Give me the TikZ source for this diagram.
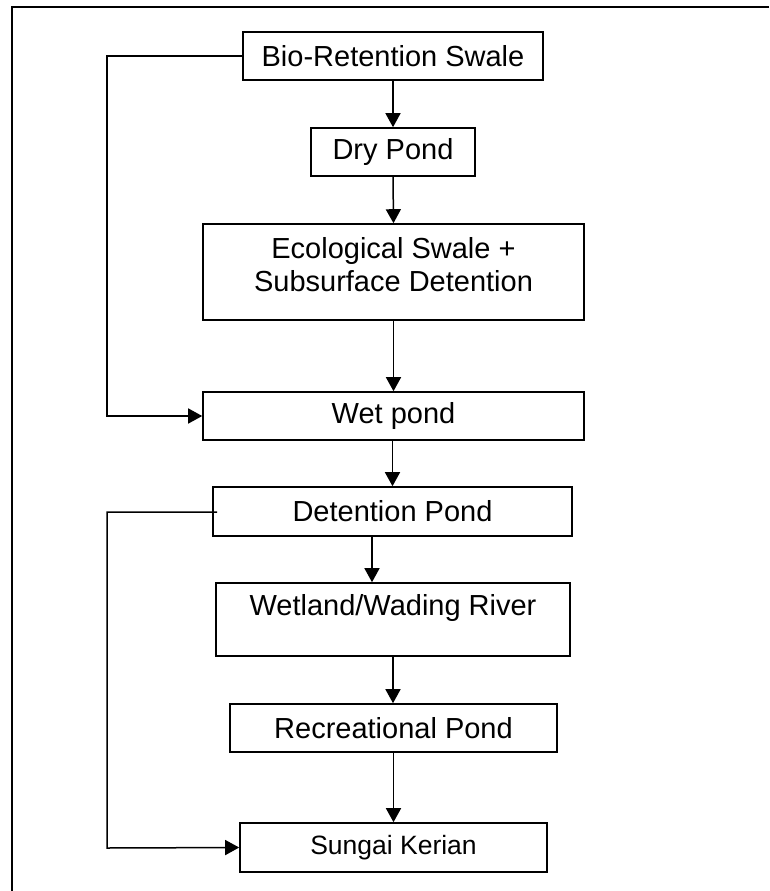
\documentclass[tikz,border=0pt]{standalone}
\usepackage{fontspec}
\setmainfont{Liberation Sans}
\usetikzlibrary{arrows.meta}
\tikzset{
  box/.style={draw, line width=1.6pt, rectangle, inner sep=0pt, font=\fontsize{29}{33}\selectfont},
  txt/.style={inner sep=0pt, align=center, font=\fontsize{29}{33}\selectfont},
  conn/.style={line width=1.5pt},
  arr/.style={conn, -{Triangle[length=14pt,width=15pt]}},
  frame/.style={line width=1.8pt}
}
\begin{document}
\begin{tikzpicture}[x=1pt,y=-1pt]
\useasboundingbox (0,0) rectangle (769,891);
% outer frame (top and left visible)
\coordinate (ftl) at (12,7);
\coordinate (ftr) at (769,7);
\coordinate (fbl) at (12,891);
\draw[frame] (ftr) -- (ftl) -- (fbl);

\node[box, minimum width=300pt, minimum height=48pt] (bio) at (393,56) {Bio-Retention Swale};
\node[box, minimum width=164pt, minimum height=48pt] (dry) at (393,152) {Dry Pond};
\node[box, minimum width=381pt, minimum height=96pt] (eco) at (393.5,272) {};
\node[txt] (ecotxt) at ([yshift=7.5pt]eco.center) {Ecological Swale +\\Subsurface Detention};
\node[box, minimum width=381pt, minimum height=48pt] (wet) at (393.5,416) {Wet pond};
\node[box, minimum width=359pt, minimum height=49pt] (det) at (392.5,511.5) {Detention Pond};
\node[box, minimum width=354pt, minimum height=73pt] (wld) at (393,619.5) {};
\node[txt] (wldtxt) at ([yshift=11.5pt]wld.center) {Wetland/Wading River};
\node[box, minimum width=327pt, minimum height=48pt] (rec) at (393.5,728) {Recreational Pond};
\node[box, minimum width=307pt, minimum height=49pt, font=\fontsize{26.5}{30}\selectfont] (sk) at (393.5,847.5) {Sungai Kerian};

\coordinate (l1t) at (107,56);
\coordinate (l1b) at (107,416);
\coordinate (l2s) at (217,512);
\coordinate (l2t) at (107,512);
\coordinate (l2b) at (107,848);

\draw[arr] (bio.south) -- (dry.north);
\draw[arr] (dry.south) -- (eco.north);
\draw[arr] (eco.south) -- (wet.north);
\draw[arr] ([xshift=-1pt]wet.south) -- ([xshift=-1pt]wet.south |- det.north);
\draw[arr] ([xshift=-20.5pt]det.south) -- ([xshift=-20.5pt]det.south |- wld.north);
\draw[arr] (wld.south) -- (wld.south |- rec.north);
\draw[arr] (rec.south) -- (sk.north);

\draw[arr] (bio.west) -- (l1t) -- (l1b) -- (wet.west);
\draw[arr] (l2s) -- (l2t) -- (l2b) -- (sk.west);
\end{tikzpicture}
\end{document}
